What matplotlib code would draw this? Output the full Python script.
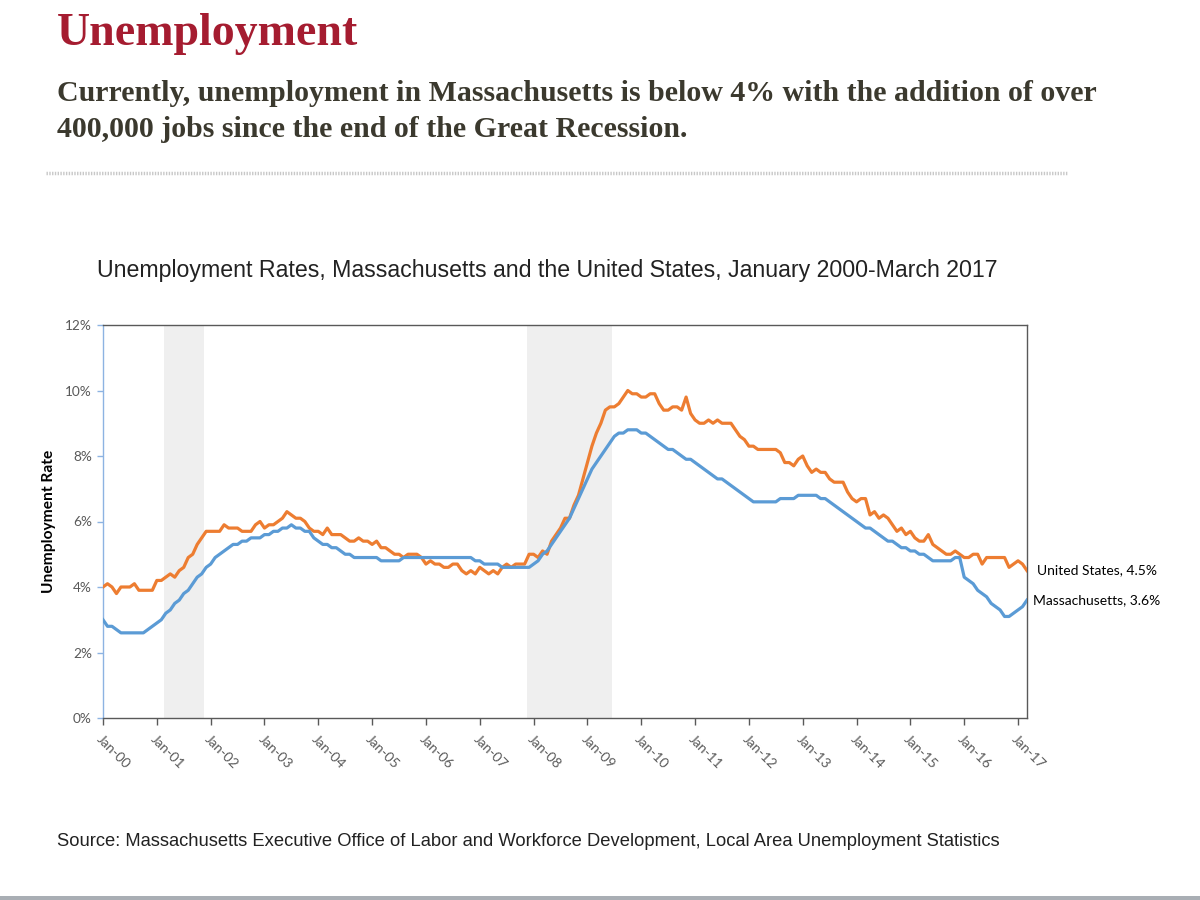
import numpy as np
import matplotlib
matplotlib.use("Agg")
import matplotlib.pyplot as plt
from matplotlib.lines import Line2D

# monthly rates, Jan 2000 - Mar 2017 (percent)
us_rate = [
    4.0, 4.1, 4.0, 3.8, 4.0, 4.0, 4.0, 4.1, 3.9, 3.9, 3.9, 3.9,  # 2000
    4.2, 4.2, 4.3, 4.4, 4.3, 4.5, 4.6, 4.9, 5.0, 5.3, 5.5, 5.7,  # 2001
    5.7, 5.7, 5.7, 5.9, 5.8, 5.8, 5.8, 5.7, 5.7, 5.7, 5.9, 6.0,  # 2002
    5.8, 5.9, 5.9, 6.0, 6.1, 6.3, 6.2, 6.1, 6.1, 6.0, 5.8, 5.7,  # 2003
    5.7, 5.6, 5.8, 5.6, 5.6, 5.6, 5.5, 5.4, 5.4, 5.5, 5.4, 5.4,  # 2004
    5.3, 5.4, 5.2, 5.2, 5.1, 5.0, 5.0, 4.9, 5.0, 5.0, 5.0, 4.9,  # 2005
    4.7, 4.8, 4.7, 4.7, 4.6, 4.6, 4.7, 4.7, 4.5, 4.4, 4.5, 4.4,  # 2006
    4.6, 4.5, 4.4, 4.5, 4.4, 4.6, 4.7, 4.6, 4.7, 4.7, 4.7, 5.0,  # 2007
    5.0, 4.9, 5.1, 5.0, 5.4, 5.6, 5.8, 6.1, 6.1, 6.5, 6.8, 7.3,  # 2008
    7.8, 8.3, 8.7, 9.0, 9.4, 9.5, 9.5, 9.6, 9.8, 10.0, 9.9, 9.9,  # 2009
    9.8, 9.8, 9.9, 9.9, 9.6, 9.4, 9.4, 9.5, 9.5, 9.4, 9.8, 9.3,  # 2010
    9.1, 9.0, 9.0, 9.1, 9.0, 9.1, 9.0, 9.0, 9.0, 8.8, 8.6, 8.5,  # 2011
    8.3, 8.3, 8.2, 8.2, 8.2, 8.2, 8.2, 8.1, 7.8, 7.8, 7.7, 7.9,  # 2012
    8.0, 7.7, 7.5, 7.6, 7.5, 7.5, 7.3, 7.2, 7.2, 7.2, 6.9, 6.7,  # 2013
    6.6, 6.7, 6.7, 6.2, 6.3, 6.1, 6.2, 6.1, 5.9, 5.7, 5.8, 5.6,  # 2014
    5.7, 5.5, 5.4, 5.4, 5.6, 5.3, 5.2, 5.1, 5.0, 5.0, 5.1, 5.0,  # 2015
    4.9, 4.9, 5.0, 5.0, 4.7, 4.9, 4.9, 4.9, 4.9, 4.9, 4.6, 4.7,  # 2016
    4.8, 4.7, 4.5,                                               # 2017
]

ma_rate = [
    3.0, 2.8, 2.8, 2.7, 2.6, 2.6, 2.6, 2.6, 2.6, 2.6, 2.7, 2.8,  # 2000
    2.9, 3.0, 3.2, 3.3, 3.5, 3.6, 3.8, 3.9, 4.1, 4.3, 4.4, 4.6,  # 2001
    4.7, 4.9, 5.0, 5.1, 5.2, 5.3, 5.3, 5.4, 5.4, 5.5, 5.5, 5.5,  # 2002
    5.6, 5.6, 5.7, 5.7, 5.8, 5.8, 5.9, 5.8, 5.8, 5.7, 5.7, 5.5,  # 2003
    5.4, 5.3, 5.3, 5.2, 5.2, 5.1, 5.0, 5.0, 4.9, 4.9, 4.9, 4.9,  # 2004
    4.9, 4.9, 4.8, 4.8, 4.8, 4.8, 4.8, 4.9, 4.9, 4.9, 4.9, 4.9,  # 2005
    4.9, 4.9, 4.9, 4.9, 4.9, 4.9, 4.9, 4.9, 4.9, 4.9, 4.9, 4.8,  # 2006
    4.8, 4.7, 4.7, 4.7, 4.7, 4.6, 4.6, 4.6, 4.6, 4.6, 4.6, 4.6,  # 2007
    4.7, 4.8, 5.0, 5.1, 5.3, 5.5, 5.7, 5.9, 6.1, 6.4, 6.7, 7.0,  # 2008
    7.3, 7.6, 7.8, 8.0, 8.2, 8.4, 8.6, 8.7, 8.7, 8.8, 8.8, 8.8,  # 2009
    8.7, 8.7, 8.6, 8.5, 8.4, 8.3, 8.2, 8.2, 8.1, 8.0, 7.9, 7.9,  # 2010
    7.8, 7.7, 7.6, 7.5, 7.4, 7.3, 7.3, 7.2, 7.1, 7.0, 6.9, 6.8,  # 2011
    6.7, 6.6, 6.6, 6.6, 6.6, 6.6, 6.6, 6.7, 6.7, 6.7, 6.7, 6.8,  # 2012
    6.8, 6.8, 6.8, 6.8, 6.7, 6.7, 6.6, 6.5, 6.4, 6.3, 6.2, 6.1,  # 2013
    6.0, 5.9, 5.8, 5.8, 5.7, 5.6, 5.5, 5.4, 5.4, 5.3, 5.2, 5.2,  # 2014
    5.1, 5.1, 5.0, 5.0, 4.9, 4.8, 4.8, 4.8, 4.8, 4.8, 4.9, 4.9,  # 2015
    4.3, 4.2, 4.1, 3.9, 3.8, 3.7, 3.5, 3.4, 3.3, 3.1, 3.1, 3.2,  # 2016
    3.3, 3.4, 3.6,                                               # 2017
]

# recessions as (first month index, last month index)
recessions = [(14, 22), (95, 113)]

year_labels = ["Jan-%02d" % y for y in range(0, 18)]
y_ticks = [0, 2, 4, 6, 8, 10, 12]

title = "Unemployment"
subtitle = ["Currently, unemployment in Massachusetts is below 4% with the addition of over",
            "400,000 jobs since the end of the Great Recession."]
chart_title = "Unemployment Rates, Massachusetts and the United States, January 2000-March 2017"
source = ("Source: Massachusetts Executive Office of Labor and Workforce Development, "
          "Local Area Unemployment Statistics")

orange = "#ED7D31"
blue = "#5B9BD5"
gray_txt = "#595959"

months = np.arange(len(us_rate))

fig = plt.figure(figsize=(12, 9), dpi=100)
W, H = 1200, 900


def fy(py):
    return 1 - py / H


# header
fig.text(57 / W, fy(45), title, family="Liberation Serif", weight="bold",
         size=33, color="#A51C30", va="baseline")
fig.text(57 / W, fy(101), subtitle[0], family="Liberation Serif", weight="bold",
         size=21.5, color="#3B392E", va="baseline")
fig.text(57 / W, fy(137), subtitle[1], family="Liberation Serif", weight="bold",
         size=21.5, color="#3B392E", va="baseline")
fig.add_artist(Line2D([46 / W, 1067 / W], [fy(173), fy(173)], color="#c8c8c8",
                      lw=2.5, linestyle=(0, (0.4, 0.4))))

fig.text(97 / W, fy(277), chart_title, family="Liberation Sans", size=16.7,
         color="#222222", va="baseline")

ax = fig.add_axes([103 / W, 1 - 718 / H, 924 / W, 393 / H])

for start, end in recessions:
    ax.axvspan(start - 0.5, end + 0.5, color="#efefef", lw=0, zorder=0)

ax.plot(months, us_rate, color=orange, lw=2.3, zorder=3, solid_joinstyle="round")
ax.plot(months, ma_rate, color=blue, lw=2.3, zorder=3, solid_joinstyle="round")

ax.set_xlim(0, len(us_rate) - 1)
ax.set_ylim(0, 12)
ax.set_yticks(y_ticks)
ax.set_yticklabels(["%d%%" % v for v in y_ticks], family="Lato", size=9.8, color=gray_txt)
ax.set_xticks(np.arange(0, len(us_rate), 12))
ax.set_xticklabels(year_labels, family="Lato", size=10, color=gray_txt,
                   rotation=-45, ha="left", va="top", rotation_mode="anchor")

ax.tick_params(axis="x", length=5, width=1, color="#595959", pad=6)
ax.tick_params(axis="y", length=4, width=1, color="#8db3e2", pad=4)

for side in ["top", "right", "bottom"]:
    ax.spines[side].set_color("#595959")
    ax.spines[side].set_linewidth(1)
ax.spines["left"].set_color("#8db3e2")
ax.spines["left"].set_linewidth(1)

fig.text(49 / W, fy(521), "Unemployment Rate", family="Lato", weight="bold",
         size=11.2, rotation=90, ha="center", va="center", color="black")

ax.annotate("United States, 4.5%", xy=(months[-1], us_rate[-1]), xytext=(7, 0),
            textcoords="offset points", va="center", ha="left",
            family="Lato", size=10, color="black", annotation_clip=False)
ax.annotate("Massachusetts, 3.6%", xy=(months[-1], ma_rate[-1]), xytext=(4, 0),
            textcoords="offset points", va="center", ha="left",
            family="Lato", size=10, color="black", annotation_clip=False)

fig.text(57 / W, fy(846), source, family="Liberation Sans", size=13.2,
         color="#222222", va="baseline")

# gray strip at the very bottom
fig.add_artist(plt.Rectangle((0, 0), 1, 4 / H, transform=fig.transFigure,
                             color="#a9aeb4", lw=0))

fig.savefig("out.png", dpi=100)
